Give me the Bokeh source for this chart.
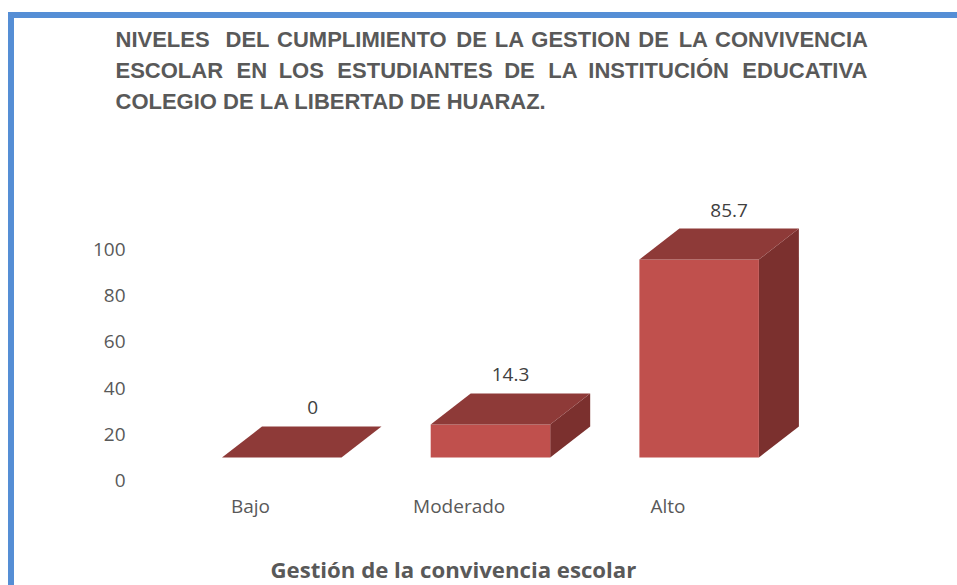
from itertools import cycle
from bokeh.plotting import figure
from bokeh.models import ColumnDataSource, FixedTicker, InlineStyleSheet, Range1d, Title
from bokeh.core.properties import value
from bokeh.embed import file_html
from bokeh.resources import INLINE

categories = ["Bajo", "Moderado", "Alto"]
values = [0, 14.3, 85.7]
value_labels = ["0", "14.3", "85.7"]
y_ticks = [0, 20, 40, 60, 80, 100]
title_lines = [
    "NIVELES  DEL CUMPLIMIENTO DE LA GESTION DE LA CONVIVENCIA",
    "ESCOLAR EN LOS ESTUDIANTES DE LA INSTITUCIÓN EDUCATIVA",
    "COLEGIO DE LA LIBERTAD DE HUARAZ.",
]
# extra width per word gap: the first two lines are justified
title_gap_fill = [["\u200a", "\u200a", "\u200a", "\u200a\u200a"], ["\u2004", "\u2005"], [""]]
x_title = "Gestión de la convivencia escolar"

W, H = 957, 585
FL, FT, FW, FH = 130, 115, 795, 367
PX_X, PX_Y = 208.7, 2.31
x0_px, y0_px = 250, 480      # where category 0 / value 0 fall in the page
BASE = 23 / PX_Y
BAR_W = 119.5 / PX_X
BAR_SHIFT = -28.5 / PX_X
DX, DY = 40 / PX_X, 31 / PX_Y

p = figure(width=W, height=H, output_backend="svg", toolbar_location=None,
           x_range=Range1d((FL - x0_px) / PX_X, (FL + FW - x0_px) / PX_X),
           y_range=Range1d((y0_px - (FT + FH)) / PX_Y, (y0_px - FT) / PX_Y),
           frame_width=FW, frame_height=FH,
           min_border_left=FL, min_border_top=FT, min_border_right=W - FL - FW,
           min_border_bottom=H - FT - FH)
p.outline_line_color = None
p.grid.visible = False

for ax in (p.xaxis[0], p.yaxis[0]):
    ax.axis_line_color = None
    ax.major_tick_line_color = None
    ax.minor_tick_line_color = None
    ax.major_tick_out = 0
    ax.major_tick_in = 0
    ax.major_label_text_color = "#595959"
    ax.major_label_text_font = "Open Sans"
    ax.major_label_text_font_size = "19px"

p.xaxis.ticker = FixedTicker(ticks=list(range(len(categories))))
p.xaxis.major_label_overrides = {i: c for i, c in enumerate(categories)}
p.xaxis.major_label_standoff = 10
p.yaxis.ticker = FixedTicker(ticks=y_ticks)
p.yaxis.major_label_standoff = 5

fx, fy, tx, ty, sx, sy = [], [], [], [], [], []
for i, v in enumerate(values):
    l = i + BAR_SHIFT
    r = l + BAR_W
    b = BASE
    t = BASE + v
    fx.append([l, r, r, l]); fy.append([b, b, t, t])
    tx.append([l, r, r + DX, l + DX]); ty.append([t, t, t + DY, t + DY])
    sx.append([r, r + DX, r + DX, r]); sy.append([b, b + DY, t + DY, t])

p.patches(sx, sy, fill_color="#7B302E", line_color=None)
p.patches(fx, fy, fill_color="#C0504D", line_color=None)
p.patches(tx, ty, fill_color="#8E3A38", line_color=None)

src = ColumnDataSource(dict(
    x=[i + BAR_SHIFT + BAR_W / 2 for i in range(3)],
    y=[BASE + v + DY for v in values],
    t=value_labels,
    ox=[31, 20, 30],
    oy=[-19, -19, -18],
))
p.text("x", "y", text="t", x_offset="ox", y_offset="oy", source=src, text_align="center",
       text_baseline="middle", text_color="#404040", text_font=value("Open Sans"),
       text_font_size="19px")

# the blue frame of the picture: left and top edges, running off the right and bottom
p.stylesheets = [InlineStyleSheet(css=(
    ":host::after{content:'';position:absolute;left:8px;top:12px;right:0;bottom:0;"
    "border-left:6px solid #558ED5;border-top:6px solid #558ED5;"
    "box-sizing:border-box;pointer-events:none;z-index:5;}"
))]


def justify(line, fills):
    it = cycle(fills)
    return "".join(ch + next(it) if ch == " " else ch for ch in line)


p.title = None
for line, fills in reversed(list(zip(title_lines, title_gap_fill))):
    p.add_layout(Title(text=justify(line, fills),
                       align="left", offset=115 - FL, standoff=4,
                       text_font="Liberation Sans", text_font_style="bold",
                       text_font_size="22px", text_color="#595959"), "above")

p.add_layout(Title(text=x_title, align="left", offset=270 - FL, standoff=60,
                   vertical_align="bottom", text_line_height=0.6,
                   text_font="Open Sans", text_font_style="bold", text_font_size="22.2px",
                   text_color="#595959"), "below")

open("out.html", "w").write(file_html(p, INLINE))
